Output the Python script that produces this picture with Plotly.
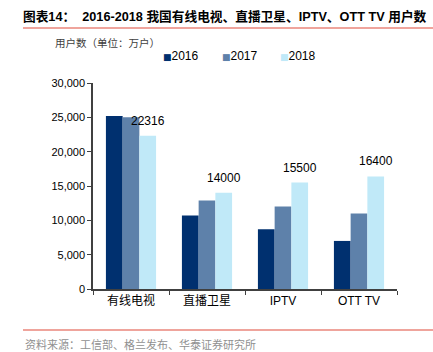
import plotly.graph_objects as go

categories = ["有线电视", "直播卫星", "IPTV", "OTT TV"]
years = ["2016", "2017", "2018"]
v2016 = [25200, 10700, 8700, 7000]
v2017 = [25000, 12900, 12000, 11000]
v2018 = [22316, 14000, 15500, 16400]
labels2018 = ["22316", "14000", "15500", "16400"]
yticks = [0, 5000, 10000, 15000, 20000, 25000, 30000]
ytick_text = ["0", "5,000", "10,000", "15,000", "20,000", "25,000", "30,000"]
colors = ["#00306F", "#5E81AA", "#C0E9F8"]

W, H = 433, 352
ML, MR, MT, MB = 93, 36, 83, 63
PW = W - ML - MR
PH = H - MT - MB
cjk = "Noto Sans CJK SC"

fig = go.Figure()
for name, vals, col in zip(years, [v2016, v2017, v2018], colors):
    fig.add_trace(go.Bar(x=categories, y=vals, name=name, showlegend=False,
                         marker=dict(color=col, line=dict(width=0))))

# data labels on 2018 bars
cat_px = PW / len(categories)
for c, v, t in zip(categories, v2018, labels2018):
    fig.add_annotation(x=c, y=v, text=t, showarrow=False, xanchor="center", yanchor="bottom",
                       xshift=0.22 * cat_px, yshift=6,
                       font=dict(family="Liberation Sans, Arial", size=12, color="#000"))

fig.update_layout(
    width=W, height=H,
    margin=dict(l=ML, r=MR, t=MT, b=MB),
    paper_bgcolor="white", plot_bgcolor="white",
    barmode="group", bargap=0.34, bargroupgap=0,
    showlegend=False,
    title=dict(text="<b>图表14：  2016-2018 我国有线电视、直播卫星、IPTV、OTT TV 用户数</b>",
               x=23 / W, xanchor="left", xref="container",
               y=1 - 17 / H, yanchor="middle", yref="container",
               font=dict(family="Liberation Sans, " + cjk, size=12.7, color="#000")),
    xaxis=dict(showline=True, linecolor="#404040", linewidth=1.5, ticks="outside",
               tickson="boundaries", ticklen=4, tickcolor="#404040",
               tickfont=dict(family="Liberation Sans, " + cjk, size=12, color="#000")),
    yaxis=dict(range=[0, 30000], tickvals=yticks, ticktext=ytick_text,
               showline=True, linecolor="#404040", linewidth=1.5, ticks="outside",
               ticklen=4, tickcolor="#404040", showgrid=False, zeroline=False,
               tickfont=dict(family="Liberation Sans, Arial", size=11, color="#000")),
    font=dict(family=cjk),
)

def px2x(px):
    return (px - ML) / PW

def py2y(py):
    return (H - MB - py) / PH

# legend drawn as text entries
for name, col, sx in zip(years, colors, [161, 220, 278]):
    fig.add_annotation(text=f"<span style='color:{col};font-size:9px;font-family:DejaVu Sans'>■</span>{name}",
                       xref="paper", yref="paper", x=px2x(sx), y=py2y(56),
                       xanchor="left", yanchor="middle", showarrow=False,
                       font=dict(family="Liberation Sans, DejaVu Sans", size=12, color="#000"))

fig.add_annotation(text="用户数（单位：万户）", xref="paper", yref="paper",
                   x=px2x(53), y=py2y(42), xanchor="left", yanchor="middle",
                   showarrow=False, font=dict(family=cjk, size=10.5, color="#404040"))
fig.add_annotation(text="资料来源：工信部、格兰发布、华泰证券研究所", xref="paper", yref="paper",
                   x=px2x(23), y=py2y(344), xanchor="left", yanchor="middle",
                   showarrow=False, font=dict(family=cjk, size=11, color="#909090"))
for py in (28, 330):
    fig.add_shape(type="line", xref="paper", yref="paper", x0=px2x(23), x1=px2x(433),
                  y0=py2y(py), y1=py2y(py), line=dict(color="#E04A3A", width=1.2))

fig.write_html("out.html")
